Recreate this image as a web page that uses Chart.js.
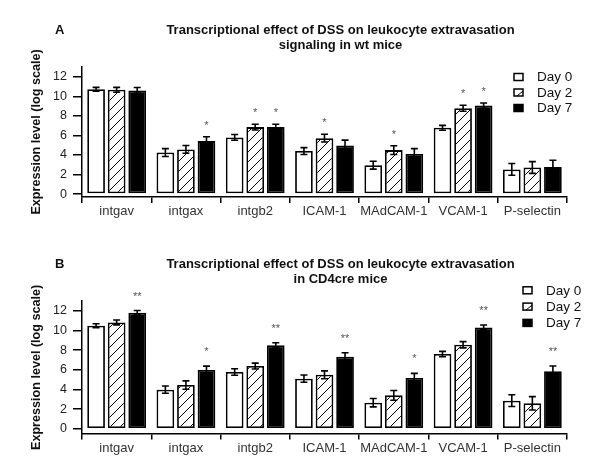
<!DOCTYPE html>
<html>
<head>
<meta charset="utf-8">
<script src="https://cdn.jsdelivr.net/npm/chart.js@4/dist/chart.umd.min.js"></script>
<style>
html, body { margin: 0; padding: 0; background: #fff; }
#wrap { width: 600px; height: 474px; }
canvas { display: block; }
</style>
</head>
<body>
<div id="wrap">
  <canvas id="chartA" width="600" height="237"></canvas>
  <canvas id="chartB" width="600" height="237"></canvas>
</div>
<script>
const categories = ['intgav', 'intgax', 'intgb2', 'ICAM-1', 'MAdCAM-1', 'VCAM-1', 'P-selectin'];
const dayLabels = ['Day 0', 'Day 2', 'Day 7'];
const yTicks = [0, 2, 4, 6, 8, 10, 12];
const yTitle = 'Expression level (log scale)';

// panel A - wt mice
const titleA = ['Transcriptional effect of DSS on leukocyte extravasation', 'signaling in wt mice'];
const wtDay0 = [10.72, 4.25, 5.8, 4.4, 2.95, 6.78, 2.52];
const wtDay2 = [10.67, 4.57, 6.85, 5.72, 4.5, 8.78, 2.72];
const wtDay7 = [10.6, 5.42, 6.85, 4.97, 4.1, 9.05, 2.76];
const wtErr0 = [0.2, 0.4, 0.3, 0.35, 0.4, 0.25, 0.6];
const wtErr2 = [0.25, 0.4, 0.3, 0.4, 0.45, 0.3, 0.6];
const wtErr7 = [0.3, 0.45, 0.3, 0.55, 0.55, 0.27, 0.7];
const wtSig0 = ['', '', '', '', '', '', ''];
const wtSig2 = ['', '', '*', '*', '*', '*', ''];
const wtSig7 = ['', '*', '*', '', '', '*', ''];

// panel B - CD4cre mice
const titleB = ['Transcriptional effect of DSS on leukocyte extravasation', 'in CD4cre mice'];
const cdDay0 = [10.5, 3.98, 5.78, 5.1, 2.65, 7.61, 2.86];
const cdDay2 = [10.84, 4.45, 6.39, 5.5, 3.4, 8.56, 2.59];
const cdDay7 = [11.83, 5.98, 8.5, 7.34, 5.17, 10.33, 5.85];
const cdErr0 = [0.2, 0.37, 0.33, 0.37, 0.43, 0.27, 0.6];
const cdErr2 = [0.25, 0.43, 0.3, 0.4, 0.5, 0.32, 0.68];
const cdErr7 = [0.22, 0.4, 0.27, 0.4, 0.47, 0.25, 0.54];
const cdSig0 = ['', '', '', '', '', '', ''];
const cdSig2 = ['', '', '', '', '', '', ''];
const cdSig7 = ['**', '*', '**', '**', '*', '**', '**'];

const FONT = '"Liberation Sans", Arial, Helvetica, sans-serif';
Chart.defaults.font.family = FONT;
Chart.defaults.color = '#222';

function makeHatch(ctx) {
    const c = document.createElement('canvas');
    c.width = 10; c.height = 10;
    const g = c.getContext('2d');
    g.fillStyle = '#fff';
    g.fillRect(0, 0, 10, 10);
    g.strokeStyle = '#000';
    g.lineWidth = 1;
    g.beginPath();
    g.moveTo(0, 10); g.lineTo(10, 0);
    g.moveTo(-5, 5); g.lineTo(5, -5);
    g.moveTo(5, 15); g.lineTo(15, 5);
    g.stroke();
    return ctx.createPattern(c, 'repeat');
}

// error bars + significance stars
const errorBars = {
    id: 'errorBars',
    afterDatasetsDraw(chart, args, opts) {
        const ctx = chart.ctx;
        const y = chart.scales.y;
        ctx.save();
        chart.data.datasets.forEach((ds, i) => {
            const meta = chart.getDatasetMeta(i);
            meta.data.forEach((bar, j) => {
                const v = ds.data[j], e = ds.errors[j];
                const top = y.getPixelForValue(v + e);
                const bot = y.getPixelForValue(v - e);
                ctx.strokeStyle = '#000';
                ctx.lineWidth = 1.6;
                ctx.beginPath();
                ctx.moveTo(bar.x, top); ctx.lineTo(bar.x, bot);
                ctx.moveTo(bar.x - 3.5, top); ctx.lineTo(bar.x + 3.5, top);
                ctx.moveTo(bar.x - 3.5, bot); ctx.lineTo(bar.x + 3.5, bot);
                ctx.stroke();
                const s = ds.stars[j];
                if (s) {
                    ctx.fillStyle = '#555';
                    ctx.font = '11px ' + FONT;
                    ctx.textAlign = 'center';
                    ctx.textBaseline = 'alphabetic';
                    ctx.fillText(s, bar.x, top - opts.starGap + 6);
                }
            });
        });
        ctx.restore();
    }
};

// panel letter, title and legend
const panelText = {
    id: 'panelText',
    afterDraw(chart, args, opts) {
        const ctx = chart.ctx;
        ctx.save();
        ctx.fillStyle = '#111';
        ctx.font = 'bold 13px ' + FONT;
        ctx.textBaseline = 'middle';
        ctx.textAlign = 'left';
        ctx.fillText(opts.letter, 55, opts.titleY);
        ctx.textAlign = 'center';
        opts.title.forEach((t, i) => ctx.fillText(t, 340.5, opts.titleY + i * 15));

        ctx.font = '13.5px ' + FONT;
        ctx.textAlign = 'left';
        chart.data.datasets.forEach((ds, i) => {
            const yy = opts.legendY + i * opts.legendGap;
            const bx = opts.legendX, bw = 9, bh = 7;
            ctx.fillStyle = ds.legendFill;
            ctx.fillRect(bx, yy - bh / 2, bw, bh);
            ctx.strokeStyle = '#000';
            ctx.lineWidth = 1.5;
            ctx.strokeRect(bx, yy - bh / 2, bw, bh);
            if (ds.hatched) {
                ctx.lineWidth = 1;
                ctx.beginPath();
                ctx.moveTo(bx + 3, yy + bh / 2);
                ctx.lineTo(bx + bw, yy - bh / 2 + 2);
                ctx.stroke();
            }
            ctx.fillStyle = '#111';
            ctx.fillText(ds.label, opts.legendX + 23, yy + 0.5);
        });
        ctx.restore();
    }
};

function buildPanel(id, cfg) {
    const canvas = document.getElementById(id);
    const hatch = makeHatch(canvas.getContext('2d'));
    const fills = ['#fff', hatch, '#000'];
    const legendFills = ['#fff', '#fff', '#000'];
    const datasets = cfg.values.map((vals, i) => ({
        label: dayLabels[i],
        data: vals,
        errors: cfg.errors[i],
        stars: cfg.stars[i],
        hatched: i === 1,
        legendFill: legendFills[i],
        backgroundColor: fills[i],
        borderColor: '#000',
        borderWidth: 1.8,
        borderSkipped: false,
        categoryPercentage: 0.89,
        barPercentage: 0.86
    }));

    return new Chart(canvas, {
        type: 'bar',
        data: { labels: categories, datasets },
        plugins: [errorBars, panelText],
        options: {
            responsive: false,
            animation: false,
            layout: { padding: { left: 20, right: 33, top: cfg.top, bottom: cfg.bottom } },
            plugins: {
                legend: { display: false },
                tooltip: { enabled: false },
                errorBars: { starGap: cfg.starGap },
                panelText: {
                    letter: cfg.letter, title: cfg.title, titleY: cfg.titleY,
                    legendX: cfg.legendX, legendY: cfg.legendY, legendGap: cfg.legendGap
                }
            },
            scales: {
                x: {
                    afterFit: s => { s.height = 30; },
                    border: { display: true, color: '#000', width: 1.5 },
                    grid: { display: true, drawOnChartArea: false, offset: true, tickLength: 6, color: '#000', lineWidth: 1.5 },
                    ticks: { color: '#333', font: { size: 13 }, padding: 1, maxRotation: 0, autoSkip: false }
                },
                y: {
                    min: cfg.yMin,
                    max: 13,
                    afterFit: s => { s.width = 62; },
                    afterBuildTicks: s => { s.ticks = yTicks.map(v => ({ value: v })); },
                    border: { display: true, color: '#000', width: 1.5 },
                    grid: { display: true, drawOnChartArea: false, tickLength: 9, color: '#000', lineWidth: 1.5 },
                    ticks: { color: '#222', font: { size: 12.5 }, padding: 6 },
                    title: {
                        display: true, text: yTitle, color: '#111',
                        font: { size: 12.6, weight: 'bold' },
                        padding: { top: 9, bottom: 0 }
                    }
                }
            }
        }
    });
}

buildPanel('chartA', {
    letter: 'A', title: titleA, titleY: 30,
    values: [wtDay0, wtDay2, wtDay7],
    errors: [wtErr0, wtErr2, wtErr7],
    stars: [wtSig0, wtSig2, wtSig7],
    top: 67, bottom: 10, yMin: -0.3, starGap: 14,
    legendX: 514, legendY: 77, legendGap: 15.5
});

buildPanel('chartB', {
    letter: 'B', title: titleB, titleY: 27.5,
    values: [cdDay0, cdDay2, cdDay7],
    errors: [cdErr0, cdErr2, cdErr7],
    stars: [cdSig0, cdSig2, cdSig7],
    top: 64.2, bottom: 10.4, yMin: -0.5, starGap: 17,
    legendX: 523, legendY: 53.3, legendGap: 16.3
});
</script>
</body>
</html>
